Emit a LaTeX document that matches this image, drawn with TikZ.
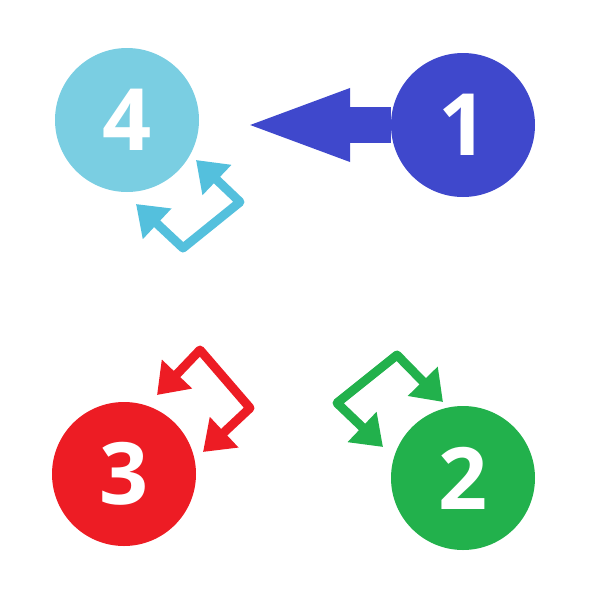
\documentclass[tikz,border=0pt]{standalone}
\usepackage{fontspec}
\setmainfont{Open Sans}
\usepackage{tikz}
\usetikzlibrary{arrows.meta, positioning}
\definecolor{stepblue}{RGB}{63, 72, 204}
\definecolor{stepcyan}{RGB}{122, 206, 226}
\definecolor{loopcyan}{RGB}{84, 192, 221}
\definecolor{stepred}{RGB}{237, 28, 36}
\definecolor{stepgreen}{RGB}{34, 177, 76}

\begin{document}
\begin{tikzpicture}[x=1pt, y=-1pt,
    numdisc/.style={circle, minimum size=144pt, inner sep=0pt, text=white,
                    font=\fontsize{86}{86}\selectfont\bfseries},
    looparrow/.style={line width=9pt, line join=round,
                      {Triangle[length=29pt, width=40pt]}-{Triangle[length=29pt, width=40pt]}}]
    \useasboundingbox (0,0) rectangle (600,600);

    % numbered discs
    \node[numdisc, fill=stepblue]  (one)   at (463,125) {1};
    \node[numdisc, fill=stepgreen] (two)   at (463,478) {2};
    \node[numdisc, fill=stepred]   (three) at (124,474) {3};
    \node[numdisc, fill=stepcyan]  (four)  at (127,120) {4};

    % big arrow from 1 towards 4
    \coordinate (bluetip) at (241,125);
    \draw[stepblue, line width=36pt, -{Triangle[length=109pt, width=64pt]}] (one) -- (bluetip);

    % little loops
    \coordinate (cyanA) at (196,160);
    \coordinate (cyanB) at (240,202);
    \coordinate (cyanC) at (183,248);
    \coordinate (cyanD) at (136,204);
    \draw[looparrow, loopcyan] (cyanA) -- (cyanB) -- (cyanC) -- (cyanD);

    \coordinate (redA) at (157,395);
    \coordinate (redB) at (200,350);
    \coordinate (redC) at (250,408);
    \coordinate (redD) at (203,452);
    \draw[looparrow, stepred] (redA) -- (redB) -- (redC) -- (redD);

    \coordinate (greenA) at (443,402);
    \coordinate (greenB) at (397,355);
    \coordinate (greenC) at (337,403);
    \coordinate (greenD) at (383,447);
    \draw[looparrow, stepgreen] (greenA) -- (greenB) -- (greenC) -- (greenD);
\end{tikzpicture}
\end{document}
